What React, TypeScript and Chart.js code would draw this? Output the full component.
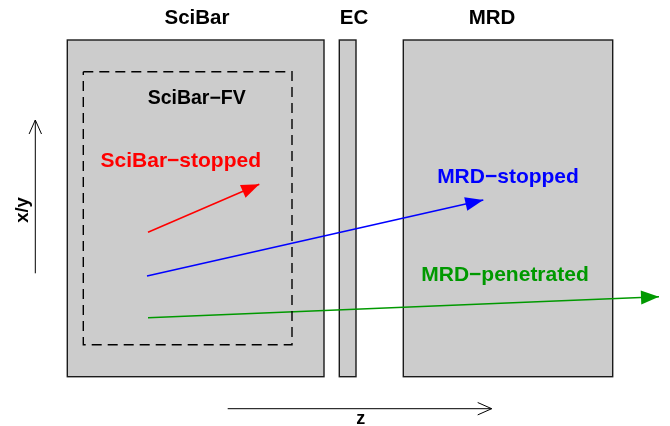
import { useEffect, useRef } from "react";
import { Chart, registerables } from "chart.js";

Chart.register(...registerables);

// detector blocks, in diagram units (z across, x/y down)
const detectorNames = ["SciBar", "EC", "MRD"];
const detectorZStart = [67.3, 339.3, 403.3];
const detectorZEnd = [324, 356, 612.7];
const detectorTop = [40, 40, 40];
const detectorBottom = [376.7, 376.7, 376.7];
const detectorLabelZ = [197, 354, 492];
const detectorLabelY = [24.3, 24.3, 24.3];

// SciBar fiducial volume
const fvName = "SciBar−FV";
const fvZ = [83.3, 292];
const fvY = [71.7, 344.7];
const fvLabel = [196.7, 104];

// tracks
const trackNames = ["SciBar−stopped", "MRD−stopped", "MRD−penetrated"];
const trackStartZ = [148, 147, 148];
const trackStartY = [232.3, 276, 317.7];
const trackEndZ = [259.3, 483.3, 659];
const trackEndY = [184.3, 200, 296.7];
const trackLabelZ = [180.8, 508, 505];
const trackLabelY = [167.3, 183.3, 280.7];
const trackColors = ["#ff0000", "#0000ff", "#009900"];

// axis arrows
const zArrowZ = [227.7, 491.7];
const zArrowY = [408.7, 408.7];
const zLabel = [360.7, 424];
const xyArrowZ = [35.3, 35.3];
const xyArrowY = [273.3, 120];
const xyLabel = [28.3, 210];

const FONT = "'Liberation Sans', Arial, Helvetica, sans-serif";

const detectorPlugin = {
  id: "detectors",
  beforeDatasetsDraw(chart: any) {
    const { ctx, scales } = chart;
    const x = scales.x;
    const y = scales.y;
    ctx.save();
    detectorNames.forEach((_, i) => {
      const x0 = x.getPixelForValue(detectorZStart[i]);
      const x1 = x.getPixelForValue(detectorZEnd[i]);
      const y0 = y.getPixelForValue(detectorTop[i]);
      const y1 = y.getPixelForValue(detectorBottom[i]);
      ctx.fillStyle = "#cccccc";
      ctx.fillRect(x0, y0, x1 - x0, y1 - y0);
      ctx.strokeStyle = "#1a1a1a";
      ctx.lineWidth = 1.4;
      ctx.strokeRect(x0, y0, x1 - x0, y1 - y0);
    });
    ctx.restore();
  },
};

const arrowPlugin = {
  id: "arrowHeads",
  afterDatasetsDraw(chart: any) {
    const { ctx } = chart;
    ctx.save();
    chart.data.datasets.forEach((ds: any, i: number) => {
      if (!ds.arrow) return;
      const pts = chart.getDatasetMeta(i).data;
      const a = pts[pts.length - 2];
      const b = pts[pts.length - 1];
      const ang = Math.atan2(b.y - a.y, b.x - a.x);
      const filled = ds.arrow === "filled";
      const len = filled ? 18 : 14;
      const half = filled ? 7 : 6.2;
      const bx = b.x - len * Math.cos(ang);
      const by = b.y - len * Math.sin(ang);
      const px = -Math.sin(ang) * half;
      const py = Math.cos(ang) * half;
      ctx.beginPath();
      ctx.moveTo(bx + px, by + py);
      ctx.lineTo(b.x, b.y);
      ctx.lineTo(bx - px, by - py);
      if (filled) {
        ctx.closePath();
        ctx.fillStyle = ds.borderColor;
        ctx.fill();
      } else {
        ctx.strokeStyle = ds.borderColor;
        ctx.lineWidth = 1;
        ctx.stroke();
      }
    });
    ctx.restore();
  },
};

const labelPlugin = {
  id: "labels",
  afterDatasetsDraw(chart: any) {
    const { ctx, scales } = chart;
    const x = scales.x;
    const y = scales.y;
    const put = (text: string, zv: number, yv: number, color: string, size: number, rot = 0) => {
      ctx.save();
      ctx.translate(x.getPixelForValue(zv), y.getPixelForValue(yv));
      ctx.rotate(rot);
      ctx.font = `bold ${size}px ${FONT}`;
      ctx.fillStyle = color;
      ctx.textAlign = "center";
      ctx.textBaseline = "alphabetic";
      ctx.fillText(text, 0, 0);
      ctx.restore();
    };
    detectorNames.forEach((n, i) => put(n, detectorLabelZ[i], detectorLabelY[i], "#000", 20.5));
    put(fvName, fvLabel[0], fvLabel[1], "#000", 19.5);
    trackNames.forEach((n, i) => put(n, trackLabelZ[i], trackLabelY[i], trackColors[i], 21));
    put("z", zLabel[0], zLabel[1], "#000", 18);
    put("x/y", xyLabel[0], xyLabel[1], "#000", 18.5, -Math.PI / 2);
  },
};

const App = () => {
  const canvasRef = useRef<HTMLCanvasElement | null>(null);

  useEffect(() => {
    const ctx = canvasRef.current?.getContext("2d");
    if (!ctx) return;

    const fvBox = [
      { x: fvZ[0], y: fvY[0] },
      { x: fvZ[1], y: fvY[0] },
      { x: fvZ[1], y: fvY[1] },
      { x: fvZ[0], y: fvY[1] },
      { x: fvZ[0], y: fvY[0] },
    ];

    const tracks = trackNames.map((name, i) => ({
      label: name,
      data: [
        { x: trackStartZ[i], y: trackStartY[i] },
        { x: trackEndZ[i], y: trackEndY[i] },
      ],
      showLine: true,
      borderColor: trackColors[i],
      borderWidth: 1.5,
      pointRadius: 0,
      arrow: "filled",
    }));

    const chart = new Chart(ctx, {
      type: "scatter",
      data: {
        datasets: [
          {
            label: fvName,
            data: fvBox,
            showLine: true,
            borderColor: "#000",
            borderWidth: 1.4,
            borderDash: [10, 6],
            pointRadius: 0,
          },
          ...tracks,
          {
            label: "z",
            data: zArrowZ.map((v, i) => ({ x: v, y: zArrowY[i] })),
            showLine: true,
            borderColor: "#000",
            borderWidth: 1,
            pointRadius: 0,
            arrow: "open",
          },
          {
            label: "x/y",
            data: xyArrowZ.map((v, i) => ({ x: v, y: xyArrowY[i] })),
            showLine: true,
            borderColor: "#000",
            borderWidth: 1,
            pointRadius: 0,
            arrow: "open",
          },
        ] as any,
      },
      options: {
        animation: false,
        responsive: false,
        layout: { padding: 0 },
        scales: {
          x: { type: "linear", min: 0, max: 670, display: false },
          y: { type: "linear", min: 0, max: 426, reverse: true, display: false },
        },
        plugins: {
          legend: { display: false },
          tooltip: { enabled: false },
        },
      },
      plugins: [detectorPlugin, arrowPlugin, labelPlugin],
    });

    return () => {
      chart.destroy();
    };
  }, []);

  return (
    <div style={{ position: "absolute", left: 0, top: 0, width: 670, height: 426, background: "#fff" }}>
      <canvas ref={canvasRef} width={670} height={426}></canvas>
    </div>
  );
};

export default App;
